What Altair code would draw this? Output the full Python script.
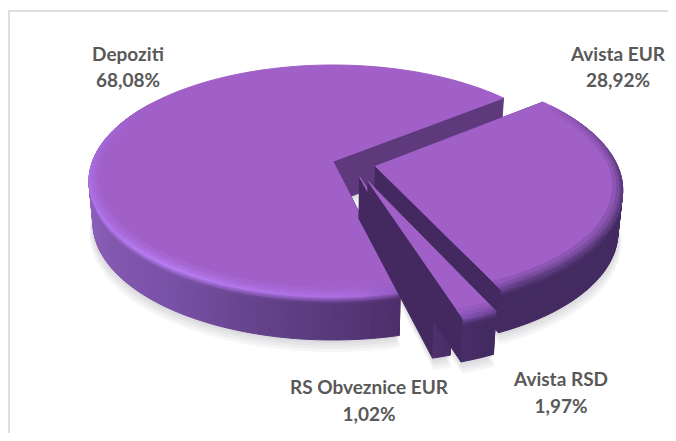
import math
import altair as alt

names = ["Depoziti", "Avista EUR", "RS Obveznice EUR", "Avista RSD"]
shares = [68.08, 28.92, 1.02, 1.97]
share_text = ["68,08%", "28,92%", "1,02%", "1,97%"]
# pie order clockwise from the first angle: Depoziti, Avista EUR, Avista RSD, RS Obveznice EUR
pie_order = [0, 1, 3, 2]
first_angle = 166.5

# exploded offset of each slice on the pie's plane (unit disc)
explode = {0: (0.0, 0.0), 1: (0.175, 0.044), 2: (0.108, 0.135), 3: (0.142, 0.174)}

label_x = [128, 618, 369, 561]
label_y = [[55, 81], [55, 81], [388, 415], [380, 407]]

CX, CY, A, B, K = 333.0, 181.0, 244.0, 116.0, -0.17
CYB, AB, BB = 223.0, 240.0, 117.0
TOP = (160, 96, 200)


def hex2(c):
    return "#%02x%02x%02x" % tuple(int(round(max(0, min(255, v)))) for v in c)


def mix(a, b, t):
    return tuple(a[i] + (b[i] - a[i]) * t for i in range(3))


def ramp(stops, x):
    if x <= stops[0][0]:
        return stops[0][1]
    for (x0, c0), (x1, c1) in zip(stops, stops[1:]):
        if x <= x1:
            return mix(c0, c1, (x - x0) / (x1 - x0))
    return stops[-1][1]


WALL = [(60, (67, 43, 97)), (158, (67, 43, 97)), (167, (77, 47, 108)), (190, (95, 63, 133)),
        (215, (120, 80, 165)), (255, (139, 96, 184)), (300, (146, 100, 192))]
RIM = [(52, TOP), (70, (125, 78, 160)), (95, (88, 57, 122)), (150, (88, 57, 122)), (163, (130, 80, 180)),
       (175, (172, 108, 224)), (215, (186, 126, 244)), (265, (172, 112, 230)), (300, TOP)]


def proj(u, v, z=0.0):
    d = 1 + K * v
    xp = u * math.sqrt(1 - K * K) / d
    yp = (v + K) / d
    xt, yt = CX + A * xp, CY + B * yp
    xb, yb = CX + AB * xp, CYB + BB * yp
    return (round(xt + (xb - xt) * z, 2), round(yt + (yb - yt) * z, 2))


def pol(th, r, off):
    a = math.radians(th)
    return off[0] + r * math.sin(a), off[1] - r * math.cos(a)


walls = []
tops = []


def add(target, points, col):
    ring = [list(p) for p in points]
    ring.append(ring[0])
    target.append({"type": "Feature", "properties": {"col": col},
                   "geometry": {"type": "Polygon", "coordinates": [ring]}})


# sectors
sectors = []
ang = first_angle
total = sum(shares)
for i in pie_order:
    sweep = shares[i] / total * 360
    sectors.append((i, ang, ang + sweep))
    ang += sweep

shadow = []
for i, t0, t1 in sectors:
    off = explode[i]
    n = max(4, int((t1 - t0) / 3))
    for s in (3, 6, 9, 12):
        r = 1 + s * 0.0012
        pts = [proj(*pol(t0, 0, off), 1)]
        for k in range(n + 1):
            th = t0 + (t1 - t0) * k / n
            pts.append(proj(*pol(th, r, off), 1))
        ring = [[p[0], p[1] + s * 0.8] for p in pts]
        ring.append(ring[0])
        shadow.append({"type": "Feature", "properties": {"col": "#555560"},
                       "geometry": {"type": "Polygon", "coordinates": [ring]}})

Z_BANDS = [0, 0.03, 0.07, 0.12, 0.18, 1.0]
R_FRACS = [1.0, 0.6, 0.3, 0.1, 0.0]

for i, t0, t1 in [sectors[0], sectors[1], sectors[3], sectors[2]]:
    off = explode[i]
    # radial walls
    for th in (t1, t0):
        col = (94, 58, 124) if i == 0 and th == t1 else (67, 41, 95)
        add(walls, [proj(*pol(th, 0, off), 0), proj(*pol(th, 1, off), 0),
                    proj(*pol(th, 1, off), 1), proj(*pol(th, 0, off), 1)], hex2(col))
    # outer wall
    n = max(2, int(round(t1 - t0)))
    for k in range(n):
        a0 = t0 + (t1 - t0) * k / n
        a1 = t0 + (t1 - t0) * (k + 1) / n
        am = ((a0 + a1) / 2) % 360
        if am < 60 or am > 305:
            continue
        w = ramp(WALL, am)
        rim = ramp(RIM, am)
        for zi in range(len(Z_BANDS) - 1):
            z0, z1 = Z_BANDS[zi], Z_BANDS[zi + 1]
            t = min(1.0, (z0 + z1) / 2 / 0.16)
            add(walls, [proj(*pol(a0, 1, off), z0), proj(*pol(a1, 1, off), z0),
                        proj(*pol(a1, 1, off), z1), proj(*pol(a0, 1, off), z1)], hex2(mix(rim, w, t)))
    # top face
    pts = [proj(*pol(t0, 0, off))]
    m = int((t1 - t0) / 1.5) + 2
    for k in range(m + 1):
        pts.append(proj(*pol(t0 + (t1 - t0) * k / m, 1, off)))
    add(walls, pts, hex2(TOP))
    # bevel rings on the visible front edge
    for k in range(n):
        a0 = t0 + (t1 - t0) * k / n
        a1 = t0 + (t1 - t0) * (k + 1) / n
        am = ((a0 + a1) / 2) % 360
        if am < 55 or am > 300:
            continue
        rim = ramp(RIM, am)
        ww = 0.035 + 0.025 * abs(math.cos(math.radians(am)))
        for ri in range(len(R_FRACS) - 1):
            r0, r1 = 1 - ww * R_FRACS[ri], 1 - ww * R_FRACS[ri + 1]
            t = (ri + 1) / (len(R_FRACS) - 1)
            add(walls, [proj(*pol(a0, r0, off)), proj(*pol(a1, r0, off)),
                        proj(*pol(a1, r1, off)), proj(*pol(a0, r1, off))], hex2(mix(TOP, rim, t)))

frame = [
    {"type": "Feature", "properties": {"col": "#dedede"},
     "geometry": {"type": "Polygon", "coordinates": [[[8, 10], [668, 10], [668, 12], [8, 12], [8, 10]]]}},
    {"type": "Feature", "properties": {"col": "#dedede"},
     "geometry": {"type": "Polygon", "coordinates": [[[8, 10], [10, 10], [10, 433], [8, 433], [8, 10]]]}},
]

projection = dict(type="identity", scale=1, translate=[-8, -8])


def shapes(feats, **kw):
    return (alt.Chart(alt.Data(values=feats))
            .mark_geoshape(**kw)
            .encode(color=alt.Color("properties.col:N", scale=None, legend=None),
                    stroke=alt.Stroke("properties.col:N", scale=None, legend=None))
            .project(**projection))


rows = []
for i, name in enumerate(names):
    rows.append({"x": label_x[i], "y": label_y[i][0], "t": name})
    rows.append({"x": label_x[i], "y": label_y[i][1], "t": share_text[i]})

text = alt.Chart(alt.Data(values=rows)).mark_text(
    font="Lato", fontSize=19, fontWeight="bold", color="#595959", align="center", baseline="middle"
).encode(
    x=alt.X("x:Q", scale=alt.Scale(domain=[8, 668]), axis=None),
    y=alt.Y("y:Q", scale=alt.Scale(domain=[433, 8]), axis=None),
    text="t:N",
)

chart = alt.layer(
    shapes(frame, strokeWidth=0),
    shapes(shadow, strokeWidth=0, opacity=0.05),
    shapes(walls, strokeWidth=1),
    text,
).properties(width=660, height=425, padding=0, autosize=alt.AutoSizeParams(type="none"),
             background="white").configure_view(stroke=None)

chart.save("out.html", embed_options={"renderer": "svg", "actions": False})
